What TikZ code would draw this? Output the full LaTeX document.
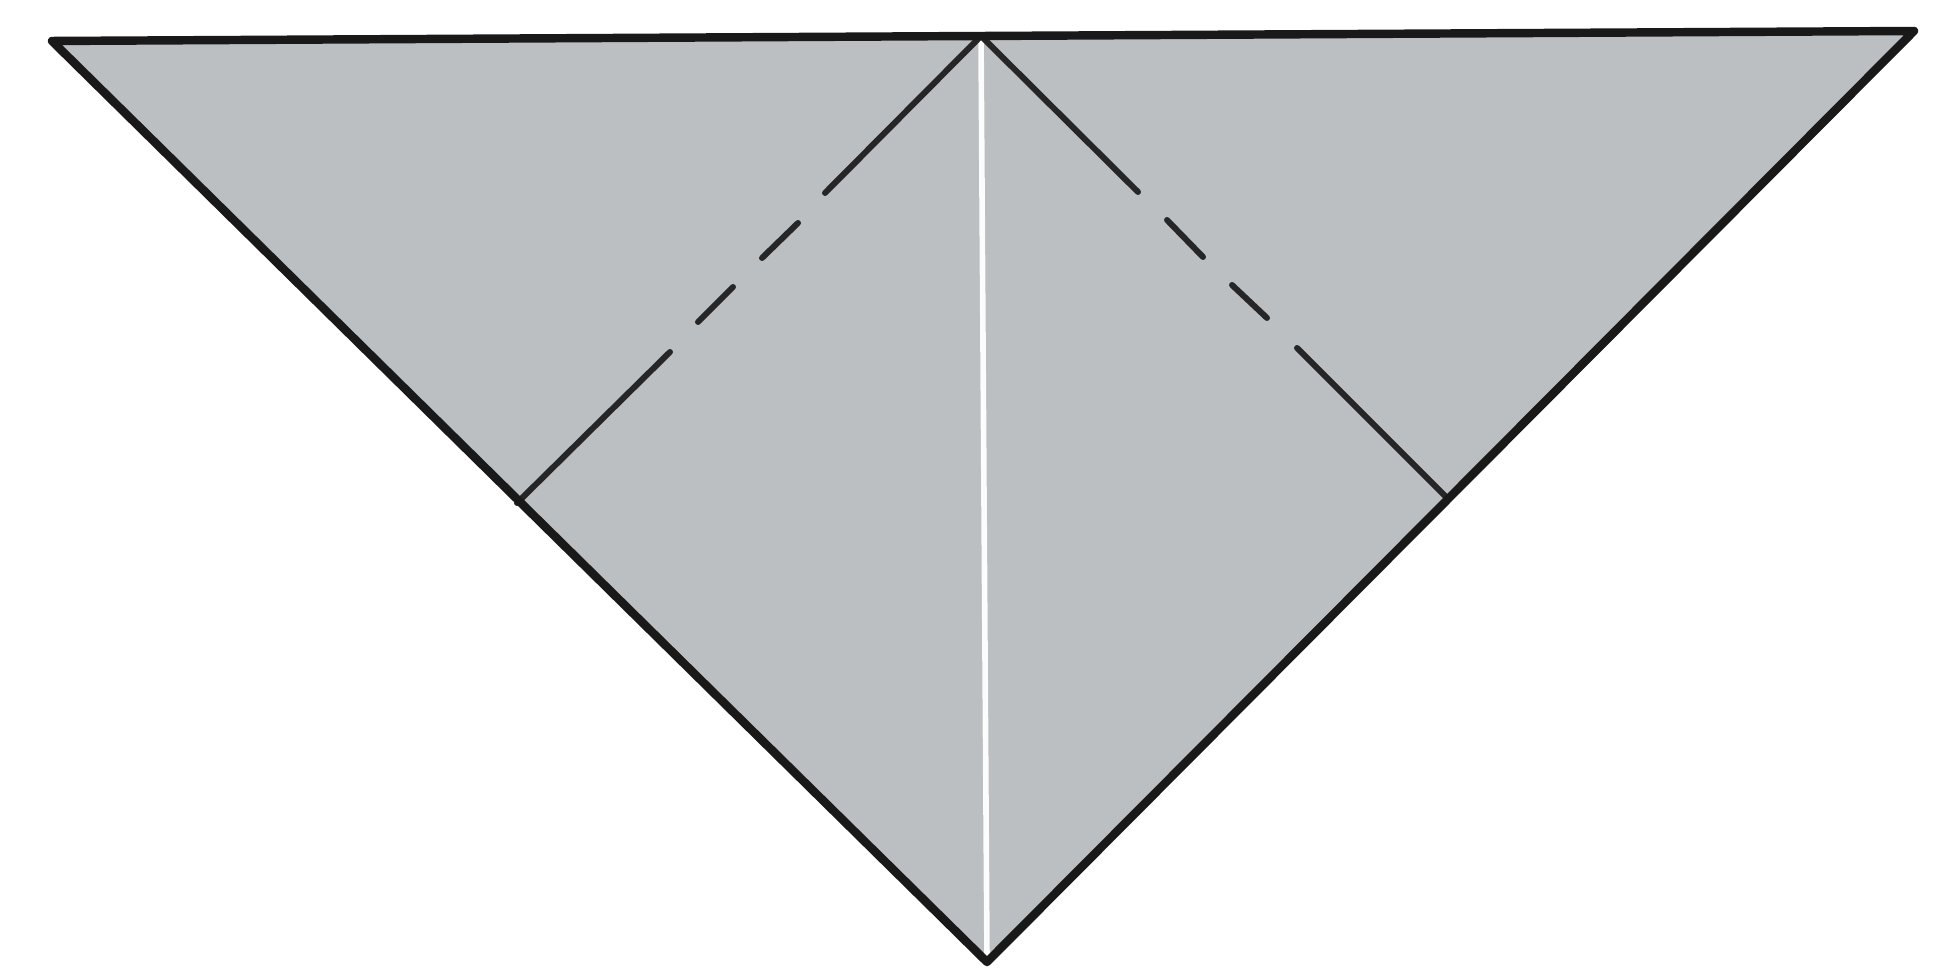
\documentclass[tikz,border=0pt]{standalone}
\usepackage{xcolor}
\usetikzlibrary{calc}
\definecolor{papergray}{HTML}{BBBFC1}
\tikzstyle{paper} = [fill=papergray, draw=none]
\tikzstyle{edge} = [draw=black!90, line width=2.4pt, line join=round]
\tikzstyle{crease} = [draw=black!85, line width=1.7pt, line cap=round]
\tikzstyle{fold} = [draw=white!95!papergray, line width=1.6pt]

\begin{document}
\begin{tikzpicture}[x=0.01cm, y=-0.01cm]
\useasboundingbox (0,0) rectangle (1958,974);

% Corners
\coordinate (tl) at (52,41);
\coordinate (tm) at (981,36);
\coordinate (tr) at (1914,31);
\coordinate (bot) at (987,962);

% Ends of the creases
\coordinate (jl) at (517,503);
\coordinate (jr) at (1447,498);

% Paper
\path[paper] (tl) -- (tr) -- (bot) -- cycle;

% Centre fold
\draw[fold] (tm) -- (bot);

% Left crease
\draw[crease] (jl) -- (670,352);
\draw[crease] (698,322) -- (733,287);
\draw[crease] (762,258) -- (798,223);
\draw[crease] (825,193) -- (tm);

% Right crease
\draw[crease] (jr) -- (1297,348);
\draw[crease] (1267,318) -- (1232,285);
\draw[crease] (1203,257) -- (1167,220);
\draw[crease] (1138,192) -- (tm);

% Outline
\draw[edge] (tl) -- (tr) -- (bot) -- cycle;
\end{tikzpicture}
\end{document}
